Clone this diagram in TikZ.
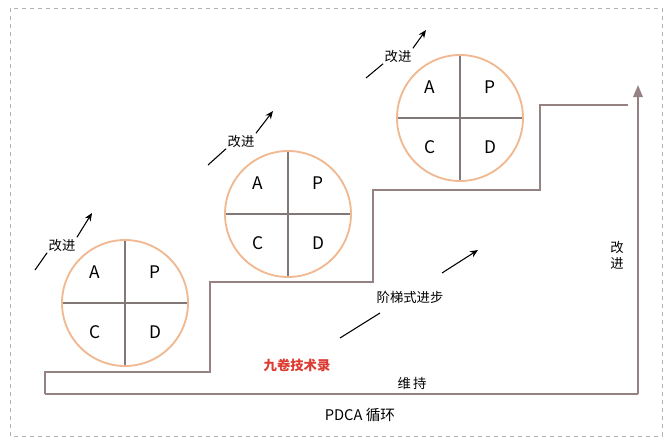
\documentclass[tikz,border=0pt]{standalone}
\usepackage{fontspec}
\setmainfont{Noto Sans CJK SC}
\usetikzlibrary{arrows.meta}
\begin{document}
\begin{tikzpicture}[x=0.75pt,y=-0.75pt,
  stair/.style={draw={rgb,255:red,150;green,130;blue,130},line width=1.6pt},
  ring/.style={draw={rgb,255:red,240;green,185;blue,145},line width=1.4pt},
  cross/.style={draw={rgb,255:red,130;green,120;blue,120},line width=1pt},
  arr/.style={draw=black,line width=0.8pt,-{Stealth[length=6pt,width=5pt]}},
  seg/.style={draw=black,line width=0.8pt},
  lbl/.style={font=\fontsize{10}{12}\selectfont,inner sep=1pt},
  big/.style={font=\fontsize{13}{15}\selectfont}]
\useasboundingbox (0,0) rectangle (672,443);
\draw[gray!60,dashed] (10,8) rectangle (662,436);
\coordinate (s0) at (45,394); \coordinate (e0) at (638,394); \coordinate (top) at (638,85);
\draw[stair] (s0) -- (e0);
\draw[stair,-{Triangle[length=9pt,width=7pt]}] (e0) -- (top);
\draw[stair] (s0) -- (45,372) -- (210,372) -- (210,282) -- (373,282) -- (373,190) -- (540,190) -- (540,105) -- (628,105);
\foreach \n/\x/\y in {c1/125/303,c2/288/214,c3/460/118}{
  \draw[cross] (\x-63,\y) -- (\x+63,\y) (\x,\y-63) -- (\x,\y+63);
  \node[ring,circle,minimum size=94.5pt,inner sep=0] (\n) at (\x,\y) {};
  \node[big] at (\x-30,\y-31) {A};
  \node[big] at (\x+30,\y-31) {P};
  \node[big] at (\x-30,\y+29) {C};
  \node[big] at (\x+30,\y+29) {D};
}
\node[lbl] (g1) at (62,245) {改进};
\draw[seg] (35,270) -- (g1.south west);
\draw[arr] (g1.north east) -- (92,213);
\node[lbl] (g2) at (241,141) {改进};
\draw[seg] (208,165) -- (g2.south west);
\draw[arr] (g2.north east) -- (273,111);
\node[lbl] (g3) at (398,56) {改进};
\draw[seg] (366,78) -- (g3.south west);
\draw[arr] (g3.north east) -- (426,30);
\node[lbl] (st) at (410,297) {阶梯式进步};
\draw[seg] (340,338) -- (380,313);
\draw[arr] (442,273) -- (478,250);
\node[lbl,text={rgb,255:red,220;green,60;blue,50},font=\fontsize{10}{12}\selectfont\bfseries] at (297,365) {九卷技术录};
\node[lbl] at (412,383) {维\,持};
\node[lbl,font=\fontsize{11}{13}\selectfont] at (360,415) {PDCA 循环};
\node[lbl,align=center] at (617,255) {改\\进};
\end{tikzpicture}
\end{document}
